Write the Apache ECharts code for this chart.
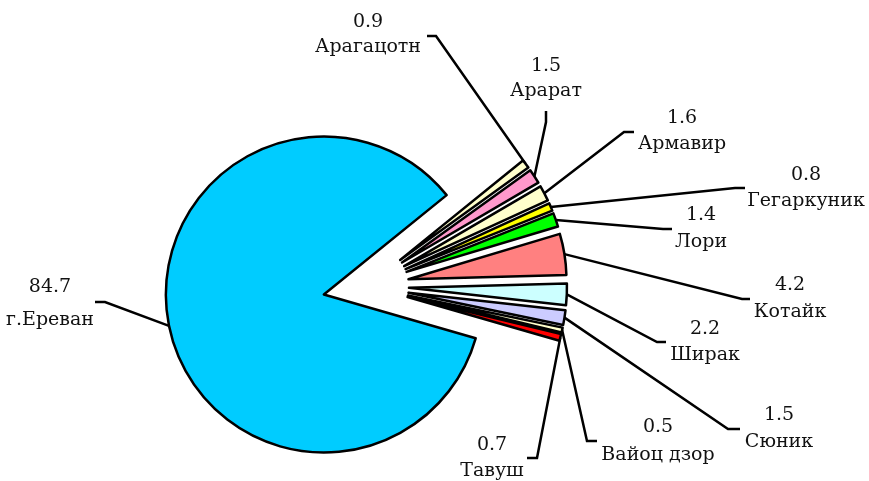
<!DOCTYPE html>
<html>
<head>
<meta charset="utf-8">
<script src="https://cdn.jsdelivr.net/npm/echarts@6/dist/echarts.min.js"></script>
<style>
html,body{margin:0;padding:0;background:#fff;}
#chart{width:869px;height:481px;}
</style>
</head>
<body>
<div id="chart"></div>
<script>
// Data
const regions = ['Арагацотн','Арарат','Армавир','Гегаркуник','Лори','Котайк','Ширак','Сюник','Вайоц дзор','Тавуш','г.Ереван'];
const shares  = [0.9, 1.5, 1.6, 0.8, 1.4, 4.2, 2.2, 1.5, 0.5, 0.7, 84.7];

// Styles
const colors = ['#FFFFCC','#FF99CC','#FFFFCC','#FFFF00','#00FF00','#FF8080','#CCFFFF','#CCCCFF','#FFFFCC','#FF0000','#00CCFF'];
// label block centres and leader-line elbow / end points (pixels)
const labelCenters = [[368,35],[546,79],[682,131],[806,188],[701,229],[790,299],[705,342],[779,429],[658,441],[492,458],[50,304]];
const labelLineHeights = [25,25,26,26,27,27,26,27,28,26,33];
const lineElbows   = [[436,36],[546,122],[624,132],[735,188],[663,229],[742,299],[657,342],[728,429],[587,441],[537,458],[105,302]];
const lineEnds     = [[427,36],[546,111],[634,132],[745,188],[672,229],[750,299],[666,342],[740,429],[597,441],[527,458],[95,302]];

const pieCenter = [366, 286];
const pieRadius = 158;
const startDeg = 39;
const explode = 43;

const total = shares.reduce((a, b) => a + b, 0);
let cum = 0;
const series = shares.map((v, i) => {
  const start = startDeg - cum / total * 360;
  const mid = (start - v / total * 180) * Math.PI / 180;
  cum += v;
  return {
    type: 'pie',
    center: [pieCenter[0] + explode * Math.cos(mid), pieCenter[1] - explode * Math.sin(mid)],
    radius: pieRadius,
    startAngle: start,
    clockwise: true,
    silent: true,
    avoidLabelOverlap: false,
    emphasis: {disabled: true, scale: false},
    itemStyle: {borderColor: '#000', borderWidth: 2.5},
    label: {
      show: true,
      position: 'outside',
      formatter: '{c}\n{b}',
      fontFamily: 'DejaVu Serif',
      fontSize: 19,
      lineHeight: labelLineHeights[i],
      color: '#111',
      align: 'center'
    },
    labelLine: {show: true, length: 20, length2: 10, lineStyle: {color: '#000', width: 2.5}},
    labelLayout: function (params) {
      if (params.dataIndex !== 0) return {};
      const pts = params.labelLinePoints;
      const s = pts ? pts[0] : lineElbows[i];
      return {
        x: labelCenters[i][0],
        y: labelCenters[i][1],
        align: 'center',
        verticalAlign: 'middle',
        labelLinePoints: [s, lineElbows[i], lineEnds[i]]
      };
    },
    data: [
      {name: regions[i], value: v, itemStyle: {color: colors[i]}},
      {name: '', value: total - v, itemStyle: {color: 'rgba(0,0,0,0)', borderWidth: 0},
       label: {show: false}, labelLine: {show: false}}
    ]
  };
});

const chart = echarts.init(document.getElementById('chart'), null, {renderer:'canvas'});
chart.setOption({
  animation: false,
  backgroundColor: '#ffffff',
  series: series
});
</script>
</body>
</html>
